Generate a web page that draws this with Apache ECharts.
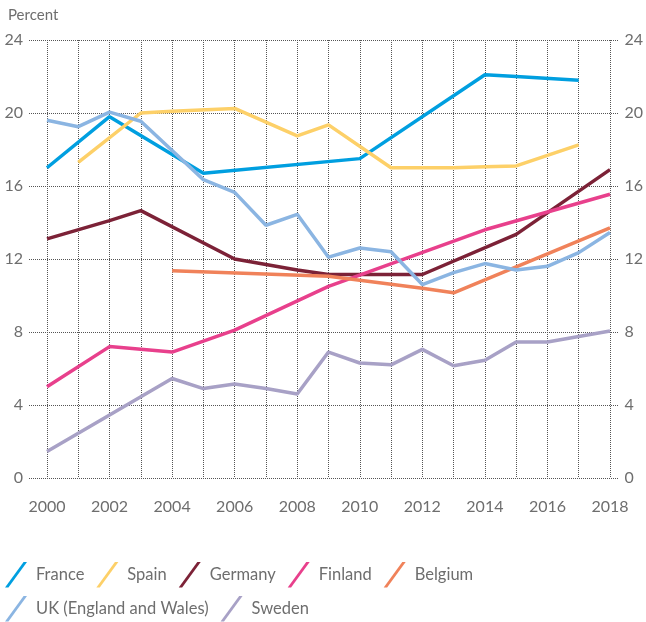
<!DOCTYPE html>
<html style="height: 100%">
   <head>
       <meta charset="utf-8">
   </head>
   <body style="height: 100%; margin: 0">
       <div id="container" style="height: 100%"></div>
       <script type="text/javascript" src="https://cdn.jsdelivr.net/npm/echarts@6/dist/echarts.min.js"></script>
       <script type="text/javascript">
var years = ['2000', '2001', '2002', '2003', '2004', '2005', '2006', '2007', '2008', '2009',
             '2010', '2011', '2012', '2013', '2014', '2015', '2016', '2017', '2018'];
var yTicks = [0, 4, 8, 12, 16, 20, 24];

// values, null = no point (line is joined across)
var france  = [17.0, null, 19.8, null, null, 16.7, null, null, null, null, 17.5, null, null, null, 22.1, 22.0, null, 21.8, null];
var spain   = [null, 17.3, null, 20.0, 20.1, null, 20.25, null, 18.75, 19.35, null, 17.0, 17.0, 17.0, 17.05, 17.1, null, 18.25, null];
var germany = [13.1, null, 14.1, 14.65, null, null, 12.0, null, 11.4, 11.15, 11.15, 11.15, 11.15, null, null, 13.35, null, null, 16.9];
var finland = [5.0, null, 7.2, null, 6.9, null, 8.1, null, null, 10.5, null, null, null, null, 13.6, null, null, null, 15.55];
var belgium = [null, null, null, null, 11.35, null, null, null, null, 11.05, null, null, 10.4, 10.15, null, null, null, null, 13.7];
var uk      = [19.6, 19.25, 20.05, 19.55, 17.95, 16.35, 15.65, 13.85, 14.45, 12.1, 12.6, 12.4, 10.6, 11.25, 11.75, 11.4, 11.6, 12.35, 13.45];
var sweden  = [1.45, null, 3.45, null, 5.45, 4.9, 5.15, 4.9, 4.6, 6.9, 6.3, 6.2, 7.05, 6.15, 6.45, 7.45, 7.45, 7.75, 8.05];

var names  = ['France', 'Spain', 'Germany', 'Finland', 'Belgium', 'UK (England and Wales)', 'Sweden'];
var values = [france, spain, germany, finland, belgium, uk, sweden];
var colors = ['#009fe0', '#fdd068', '#7c2237', '#e8408c', '#f0825a', '#8bb5e2', '#a8a1c6'];

var txt = '#6e6e6e';
var font = 'Lato';
var dots = { color: '#555', width: 1, type: 'dotted' };
var slash = 'path://M0,26 L19,0 L22.5,0 L3.5,26 Z';

var dom = document.getElementById("container");
var myChart = echarts.init(dom);

var legendBase = {
    orient: 'horizontal',
    left: 0,
    icon: slash,
    itemWidth: 22,
    itemHeight: 26,
    itemGap: 12,
    textStyle: { color: txt, fontSize: 16.5, fontFamily: font, padding: [0, 0, 0, 4] }
};

option = {
    animation: false,
    color: colors,
    title: {
        text: 'Percent',
        left: 3,
        top: 3,
        textStyle: { color: txt, fontSize: 15, fontWeight: 'normal', fontFamily: font }
    },
    legend: [
        Object.assign({}, legendBase, { top: 557, data: names.slice(0, 5) }),
        Object.assign({}, legendBase, { top: 591, data: names.slice(5) })
    ],
    grid: [
        { left: 47, right: 36, top: 40, bottom: 144 },
        { left: 29, right: 20, top: 40, bottom: 144 }
    ],
    xAxis: [{
        type: 'category',
        gridIndex: 0,
        data: years,
        boundaryGap: false,
        axisLine: { show: false },
        axisTick: { show: false },
        axisLabel: { interval: 1, color: txt, fontSize: 16, fontFamily: font, margin: 21 },
        splitLine: { show: true, interval: 0, lineStyle: dots }
    }, {
        type: 'value',
        gridIndex: 1,
        show: false
    }],
    yAxis: [{
        type: 'value',
        gridIndex: 0,
        min: 0, max: 24, interval: 4,
        show: false
    }, {
        type: 'value',
        gridIndex: 1,
        position: 'left',
        min: yTicks[0], max: yTicks[yTicks.length - 1], interval: 4,
        axisLine: { show: false },
        axisTick: { show: false },
        axisLabel: { color: txt, fontSize: 16, fontFamily: font, margin: 6 },
        splitLine: { show: true, lineStyle: dots }
    }, {
        type: 'value',
        gridIndex: 1,
        position: 'right',
        min: yTicks[0], max: yTicks[yTicks.length - 1], interval: 4,
        axisLine: { show: false },
        axisTick: { show: false },
        axisLabel: { color: txt, fontSize: 16, fontFamily: font, margin: 6 },
        splitLine: { show: false }
    }],
    series: names.map(function (n, i) {
        return {
            name: n,
            type: 'line',
            xAxisIndex: 0,
            yAxisIndex: 0,
            data: values[i],
            connectNulls: true,
            symbol: 'none',
            lineStyle: { width: 3.5, color: colors[i] },
            itemStyle: { color: colors[i] }
        };
    })
};

if (option && typeof option === "object") {
    myChart.setOption(option, true);
}
       </script>
   </body>
</html>
